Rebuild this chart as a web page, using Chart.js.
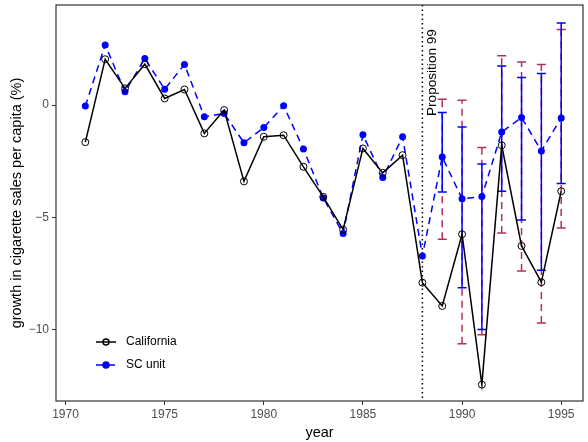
<!DOCTYPE html>
<html>
<head>
<meta charset="utf-8">
<script src="https://cdn.jsdelivr.net/npm/chart.js@4/dist/chart.umd.min.js"></script>
<style>
  html, body { margin: 0; padding: 0; background: #fff; }
  #wrap { width: 588px; height: 442px; }
</style>
</head>
<body>
<div id="wrap"><canvas id="chart"></canvas></div>
<script>
// Data
const years = [1971, 1972, 1973, 1974, 1975, 1976, 1977, 1978, 1979, 1980, 1981, 1982, 1983,
               1984, 1985, 1986, 1987, 1988, 1989, 1990, 1991, 1992, 1993, 1994, 1995];
const california = [-1.65, 2.05, 0.75, 1.83, 0.3, 0.7, -1.26, -0.22, -3.4, -1.41, -1.34, -2.75, -4.09,
                    -5.55, -1.93, -3.02, -2.23, -7.92, -8.96, -5.76, -12.47, -1.79, -6.28, -7.9, -3.84];
const scUnit = [-0.04, 2.69, 0.6, 2.08, 0.71, 1.82, -0.52, -0.37, -1.68, -1.0, -0.03, -1.95, -4.14,
                -5.73, -1.32, -3.23, -1.41, -6.73, -2.31, -4.18, -4.08, -1.2, -0.55, -2.04, -0.57];

// Error bars after the policy
const barYears = [1989, 1990, 1991, 1992, 1993, 1994, 1995];
const scLow = [-3.87, -8.15, -10.01, -3.84, -5.12, -7.37, -3.5];
const scHigh = [-0.33, -0.97, -2.63, 1.75, 1.24, 1.41, 3.67];
const altLow = [-5.98, -10.65, -10.24, -5.7, -7.4, -9.72, -5.48];
const altHigh = [0.27, 0.22, -1.89, 2.2, 1.93, 1.82, 3.38];

const xTicks = [1970, 1975, 1980, 1985, 1990, 1995];
const yTicks = [-10, -5, 0];
const policyYear = 1988;
const policyLabel = 'Proposition 99';
const yTitle = 'growth in cigarette sales per capita (%)';

const FONT = '"Liberation Sans", Arial, sans-serif';

// Error bars, policy line, panel border, legend
const extras = {
    id: 'extras',
    beforeDatasetsDraw(chart) {
        const ctx = chart.ctx;
        const x = chart.scales.x, y = chart.scales.y;
        const area = chart.chartArea;
        ctx.save();
        // dotted vertical line
        const px = x.getPixelForValue(policyYear);
        ctx.strokeStyle = '#000';
        ctx.lineWidth = 1.5;
        ctx.setLineDash([1.5, 3]);
        ctx.beginPath();
        ctx.moveTo(px, area.top);
        ctx.lineTo(px, area.bottom);
        ctx.stroke();
        ctx.setLineDash([]);
        // label
        ctx.translate(px + 14, area.top + 111);
        ctx.rotate(-Math.PI / 2);
        ctx.fillStyle = '#000';
        ctx.font = '13.6px ' + FONT;
        ctx.textAlign = 'left';
        ctx.textBaseline = 'alphabetic';
        ctx.fillText(policyLabel, 0, 0);
        ctx.restore();

        const drawBars = (lo, hi, color, dash) => {
            ctx.save();
            ctx.strokeStyle = color;
            ctx.lineWidth = 1.5;
            barYears.forEach((yr, i) => {
                const cx = x.getPixelForValue(yr);
                const y1 = y.getPixelForValue(lo[i]);
                const y2 = y.getPixelForValue(hi[i]);
                ctx.setLineDash(dash);
                ctx.beginPath();
                ctx.moveTo(cx, y1);
                ctx.lineTo(cx, y2);
                ctx.stroke();
                ctx.setLineDash([]);
                ctx.beginPath();
                ctx.moveTo(cx - 4.5, y1);
                ctx.lineTo(cx + 4.5, y1);
                ctx.moveTo(cx - 4.5, y2);
                ctx.lineTo(cx + 4.5, y2);
                ctx.stroke();
            });
            ctx.restore();
        };
        drawBars(altLow, altHigh, '#B03060', [7, 5]);
        drawBars(scLow, scHigh, '#0000FF', []);
    },
    afterDraw(chart) {
        const ctx = chart.ctx;
        const area = chart.chartArea;
        ctx.save();
        ctx.strokeStyle = '#333333';
        ctx.lineWidth = 1.2;
        ctx.strokeRect(area.left, area.top, area.right - area.left, area.bottom - area.top);

        // y axis title
        ctx.save();
        ctx.translate(17, (area.top + area.bottom) / 2);
        ctx.rotate(-Math.PI / 2);
        ctx.fillStyle = '#000';
        ctx.font = '14.5px ' + FONT;
        ctx.textAlign = 'center';
        ctx.textBaseline = 'middle';
        ctx.fillText(yTitle, 0, 0);
        ctx.restore();

        // legend
        const items = chart.data.datasets;
        const lx = 96, ly = [342, 365];
        items.forEach((ds, i) => {
            ctx.strokeStyle = ds.borderColor;
            ctx.lineWidth = 1.5;
            ctx.setLineDash(ds.borderDash || []);
            ctx.beginPath();
            ctx.moveTo(lx, ly[i]);
            ctx.lineTo(lx + 20, ly[i]);
            ctx.stroke();
            ctx.setLineDash([]);
            ctx.beginPath();
            ctx.arc(lx + 10, ly[i], ds.pointRadius - 0.5, 0, Math.PI * 2);
            if (ds.pointBackgroundColor !== 'transparent') {
                ctx.fillStyle = ds.pointBackgroundColor;
                ctx.fill();
            }
            ctx.strokeStyle = ds.pointBorderColor;
            ctx.stroke();
            ctx.fillStyle = '#000';
            ctx.font = '12px ' + FONT;
            ctx.textBaseline = 'middle';
            ctx.fillText(ds.label, lx + 30, ly[i]);
        });
        ctx.restore();
    }
};

const ctx = document.getElementById('chart').getContext('2d');
new Chart(ctx, {
    type: 'line',
    data: {
        datasets: [
            {
                label: 'California',
                data: years.map((yr, i) => ({ x: yr, y: california[i] })),
                borderColor: '#000000',
                borderWidth: 1.5,
                pointRadius: 3.5,
                pointBorderWidth: 1,
                pointBackgroundColor: 'transparent',
                pointBorderColor: '#000000',
                tension: 0
            },
            {
                label: 'SC unit',
                data: years.map((yr, i) => ({ x: yr, y: scUnit[i] })),
                borderColor: '#0000FF',
                borderWidth: 1.5,
                borderDash: [7, 5],
                pointRadius: 3.5,
                pointBorderWidth: 0,
                pointBackgroundColor: '#0000FF',
                pointBorderColor: '#0000FF',
                tension: 0
            }
        ]
    },
    options: {
        responsive: true,
        maintainAspectRatio: false,
        animation: false,
        layout: {
            padding: { top: 5, right: 2, left: 0, bottom: 0 }
        },
        plugins: {
            legend: { display: false },
            tooltip: { enabled: false }
        },
        scales: {
            x: {
                type: 'linear',
                min: 1969.52,
                max: 1996.1,
                afterBuildTicks: (scale) => { scale.ticks = xTicks.map(v => ({ value: v })); },
                afterFit: (scale) => {
                    scale.height = 41;
                    scale.paddingLeft = 0;
                    scale.paddingRight = 0;
                },
                ticks: {
                    color: '#4D4D4D',
                    font: { family: FONT, size: 12 },
                    padding: 2,
                    maxRotation: 0,
                    callback: (v) => String(v)
                },
                grid: {
                    drawOnChartArea: false,
                    drawTicks: true,
                    tickLength: 4,
                    color: '#333333'
                },
                border: { display: false },
                title: {
                    display: true,
                    text: 'year',
                    color: '#000',
                    font: { family: FONT, size: 14.5 },
                    padding: { top: 0, bottom: 0 }
                }
            },
            y: {
                type: 'linear',
                min: -13.2,
                max: 4.47,
                afterBuildTicks: (scale) => { scale.ticks = yTicks.map(v => ({ value: v })); },
                afterFit: (scale) => {
                    scale.width = 56;
                    scale.paddingTop = 0;
                    scale.paddingBottom = 0;
                },
                ticks: {
                    color: '#4D4D4D',
                    font: { family: FONT, size: 12 },
                    padding: 3,
                    callback: (v) => v < 0 ? '\u2212' + Math.abs(v) : String(v)
                },
                grid: {
                    drawOnChartArea: false,
                    drawTicks: true,
                    tickLength: 4,
                    color: '#333333'
                },
                border: { display: false }
            }
        }
    },
    plugins: [extras]
});
</script>
</body>
</html>
